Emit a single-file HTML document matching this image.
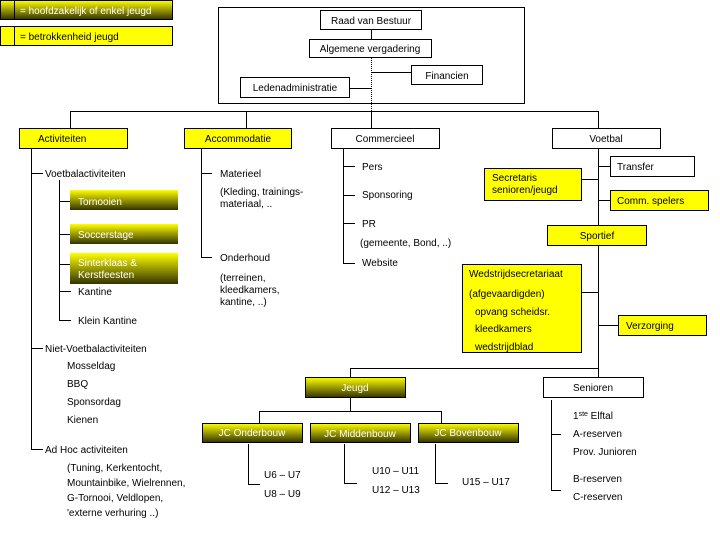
<!DOCTYPE html>
<html><head><meta charset="utf-8"><style>
body{margin:0;background:#fff;width:720px;height:540px;overflow:hidden}
svg text{font-family:"Liberation Sans",sans-serif;font-size:10px;fill:#000}
</style></head><body>
<svg width="720" height="540" viewBox="0 0 720 540" xmlns="http://www.w3.org/2000/svg">
<defs>
<linearGradient id="g" x1="0" y1="0" x2="0" y2="1">
<stop offset="0" stop-color="#ffff00"/><stop offset="1" stop-color="#333300"/>
</linearGradient>
</defs>
<g stroke="#000" stroke-width="1" fill="none">
<rect x="0.5" y="0.5" width="172" height="19" fill="url(#g)"/>
<line x1="14.5" y1="0" x2="14.5" y2="20"/>
<rect x="0.5" y="26.5" width="172" height="19" fill="#ffff00"/>
<line x1="14.5" y1="27" x2="14.5" y2="46"/>
<rect x="218.5" y="7.5" width="306" height="96"/>
<rect x="320.5" y="10.5" width="101" height="19" fill="#fff"/>
<rect x="309.5" y="39.5" width="122" height="18" fill="#fff"/>
<rect x="411.5" y="65.5" width="71" height="19" fill="#fff"/>
<rect x="240.5" y="77.5" width="109" height="20" fill="#fff"/>
<line x1="371.5" y1="30" x2="371.5" y2="39"/>
<line x1="371.5" y1="58" x2="371.5" y2="111" stroke-dasharray="1,1"/>
<line x1="371" y1="72.5" x2="411" y2="72.5"/>
<line x1="350" y1="88.5" x2="371" y2="88.5"/>
<line x1="70" y1="111.5" x2="599" y2="111.5"/>
<line x1="70.5" y1="111" x2="70.5" y2="128"/>
<line x1="246.5" y1="111" x2="246.5" y2="128"/>
<line x1="371.5" y1="111" x2="371.5" y2="128"/>
<line x1="598.5" y1="111" x2="598.5" y2="128"/>
<rect x="19.5" y="128.5" width="108" height="20" fill="#ffff00"/>
<rect x="184.5" y="128.5" width="107" height="20" fill="#ffff00"/>
<rect x="331.5" y="128.5" width="108" height="20" fill="#fff"/>
<rect x="552.5" y="128.5" width="108" height="20" fill="#fff"/>
<line x1="31.5" y1="149" x2="31.5" y2="450"/>
<line x1="31" y1="173.5" x2="43" y2="173.5"/>
<line x1="59.5" y1="180" x2="59.5" y2="320"/>
<line x1="59" y1="201.5" x2="70" y2="201.5"/>
<line x1="59" y1="234.5" x2="70" y2="234.5"/>
<line x1="59" y1="264.5" x2="70" y2="264.5"/>
<line x1="59" y1="291.5" x2="71" y2="291.5"/>
<line x1="59" y1="320.5" x2="71" y2="320.5"/>
<line x1="31" y1="348.5" x2="43" y2="348.5"/>
<line x1="31" y1="449.5" x2="43" y2="449.5"/>
<rect x="70" y="190" width="108" height="20" fill="url(#g)" stroke="none"/>
<rect x="70" y="224" width="108" height="20" fill="url(#g)" stroke="none"/>
<rect x="70" y="253" width="108" height="31" fill="url(#g)" stroke="none"/>
<line x1="201.5" y1="149" x2="201.5" y2="257"/>
<line x1="201" y1="173.5" x2="212" y2="173.5"/>
<line x1="201" y1="257.5" x2="212" y2="257.5"/>
<line x1="343.5" y1="149" x2="343.5" y2="264"/>
<line x1="343" y1="166.5" x2="355" y2="166.5"/>
<line x1="343" y1="195.5" x2="355" y2="195.5"/>
<line x1="343" y1="223.5" x2="355" y2="223.5"/>
<line x1="343" y1="263.5" x2="355" y2="263.5"/>
<line x1="598.5" y1="149" x2="598.5" y2="368"/>
<line x1="598" y1="166.5" x2="610" y2="166.5"/>
<line x1="581" y1="179.5" x2="598" y2="179.5"/>
<line x1="598" y1="200.5" x2="610" y2="200.5"/>
<line x1="581" y1="292.5" x2="598" y2="292.5"/>
<line x1="598" y1="325.5" x2="618" y2="325.5"/>
<rect x="610.5" y="156.5" width="84" height="20" fill="#fff"/>
<rect x="484.5" y="168.5" width="97" height="32" fill="#ffff00"/>
<rect x="610.5" y="190.5" width="98" height="20" fill="#ffff00"/>
<rect x="547.5" y="225.5" width="99" height="20" fill="#ffff00"/>
<rect x="462.5" y="264.5" width="119" height="88" fill="#ffff00"/>
<rect x="618.5" y="315.5" width="88" height="20" fill="#ffff00"/>
<line x1="350" y1="368.5" x2="599" y2="368.5"/>
<line x1="350.5" y1="368" x2="350.5" y2="377"/>
<line x1="598.5" y1="368" x2="598.5" y2="377"/>
<rect x="305.5" y="377.5" width="100" height="20" fill="url(#g)"/>
<rect x="543.5" y="377.5" width="100" height="20" fill="#fff"/>
<line x1="551.5" y1="400" x2="551.5" y2="491"/>
<line x1="551" y1="434.5" x2="561" y2="434.5"/>
<line x1="551" y1="490.5" x2="561" y2="490.5"/>
<line x1="350.5" y1="398" x2="350.5" y2="411"/>
<line x1="259" y1="411.5" x2="442" y2="411.5"/>
<line x1="259.5" y1="411" x2="259.5" y2="423"/>
<line x1="441.5" y1="411" x2="441.5" y2="423"/>
<rect x="202.5" y="423.5" width="100" height="19" fill="url(#g)"/>
<rect x="310.5" y="423.5" width="100" height="19" fill="url(#g)"/>
<rect x="418.5" y="423.5" width="100" height="19" fill="url(#g)"/>
<line x1="248.5" y1="444" x2="248.5" y2="485"/>
<line x1="248" y1="484.5" x2="260" y2="484.5"/>
<line x1="344.5" y1="444" x2="344.5" y2="484"/>
<line x1="344" y1="483.5" x2="357" y2="483.5"/>
<line x1="435.5" y1="444" x2="435.5" y2="484"/>
<line x1="435" y1="483.5" x2="448" y2="483.5"/>
</g>
<g>
<text x="20" y="14" style="fill:#fff">= hoofdzakelijk of enkel jeugd</text>
<text x="20" y="40">= betrokkenheid jeugd</text>
<text x="371" y="24" text-anchor="middle">Raad van Bestuur</text>
<text x="370" y="52" text-anchor="middle">Algemene vergadering</text>
<text x="447" y="79" text-anchor="middle">Financien</text>
<text x="295" y="91" text-anchor="middle">Ledenadministratie</text>
<text x="38" y="142">Activiteiten</text>
<text x="238" y="142" text-anchor="middle">Accommodatie</text>
<text x="385" y="142" text-anchor="middle">Commercieel</text>
<text x="606" y="142" text-anchor="middle">Voetbal</text>
<text x="45" y="177">Voetbalactiviteiten</text>
<text x="78" y="205" style="fill:#fff">Tornooien</text>
<text x="78" y="238" style="fill:#fff">Soccerstage</text>
<text x="78" y="266" style="fill:#fff">Sinterklaas &amp;</text>
<text x="78" y="278" style="fill:#fff">Kerstfeesten</text>
<text x="78" y="295">Kantine</text>
<text x="78" y="324">Klein Kantine</text>
<text x="45" y="352">Niet-Voetbalactiviteiten</text>
<text x="67" y="369">Mosseldag</text>
<text x="67" y="387">BBQ</text>
<text x="67" y="405">Sponsordag</text>
<text x="67" y="423">Kienen</text>
<text x="45" y="453">Ad Hoc activiteiten</text>
<text x="67" y="471">(Tuning, Kerkentocht,</text>
<text x="67" y="486">Mountainbike, Wielrennen,</text>
<text x="67" y="501">G-Tornooi, Veldlopen,</text>
<text x="67" y="516">'externe verhuring ..)</text>
<text x="220" y="177">Materieel</text>
<text x="220" y="195">(Kleding, trainings-</text>
<text x="220" y="207">materiaal, ..</text>
<text x="220" y="261">Onderhoud</text>
<text x="220" y="281">(terreinen,</text>
<text x="220" y="293">kleedkamers,</text>
<text x="220" y="305">kantine, ..)</text>
<text x="362" y="170">Pers</text>
<text x="362" y="198">Sponsoring</text>
<text x="362" y="227">PR</text>
<text x="360" y="246">(gemeente, Bond, ..)</text>
<text x="362" y="266">Website</text>
<text x="617" y="170">Transfer</text>
<text x="492" y="181">Secretaris</text>
<text x="492" y="193">senioren/jeugd</text>
<text x="617" y="204">Comm. spelers</text>
<text x="597" y="239" text-anchor="middle">Sportief</text>
<text x="469" y="277">Wedstrijdsecretariaat</text>
<text x="469" y="297">(afgevaardigden)</text>
<text x="475" y="315">opvang  scheidsr.</text>
<text x="475" y="332">kleedkamers</text>
<text x="475" y="350">wedstrijdblad</text>
<text x="626" y="329">Verzorging</text>
<text x="355" y="391" text-anchor="middle" style="fill:#fff">Jeugd</text>
<text x="593" y="391" text-anchor="middle">Senioren</text>
<text x="573" y="419">1<tspan font-size="7" dy="-3">ste</tspan><tspan dy="3"> Elftal</tspan></text>
<text x="573" y="437">A-reserven</text>
<text x="573" y="455">Prov. Junioren</text>
<text x="573" y="482">B-reserven</text>
<text x="573" y="500">C-reserven</text>
<text x="252" y="436" text-anchor="middle" style="fill:#fff">JC Onderbouw</text>
<text x="360" y="437" text-anchor="middle" style="fill:#fff">JC Middenbouw</text>
<text x="468" y="436" text-anchor="middle" style="fill:#fff">JC Bovenbouw</text>
<text x="264" y="478">U6 – U7</text>
<text x="264" y="497">U8 – U9</text>
<text x="372" y="474">U10 – U11</text>
<text x="372" y="493">U12 – U13</text>
<text x="462" y="485">U15 – U17</text>
</g>
</svg>
</body></html>
